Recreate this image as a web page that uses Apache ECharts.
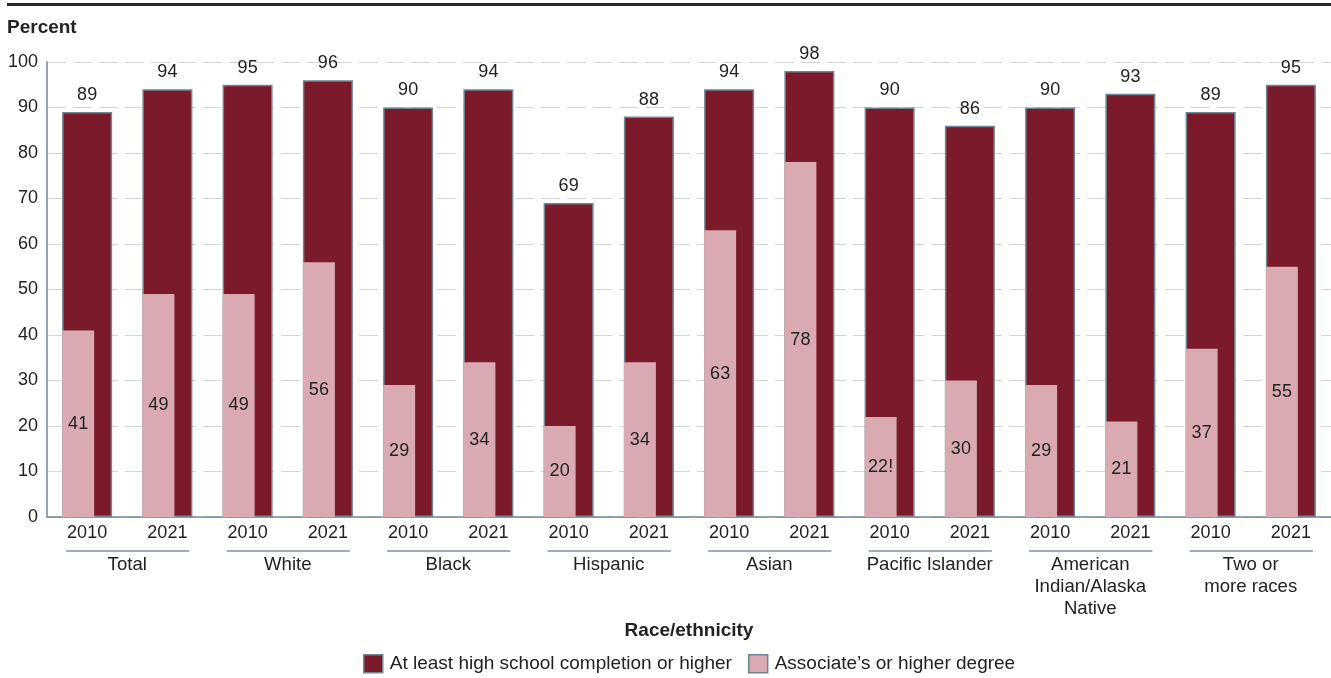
<!DOCTYPE html>
<html>
<head>
<meta charset="utf-8">
<script src="https://cdn.jsdelivr.net/npm/echarts@6/dist/echarts.min.js"></script>
<style>
  html, body { margin: 0; padding: 0; background: #fff; }
  #chart { width: 1331px; height: 678px; }
</style>
</head>
<body>
<div id="chart"></div>
<script>
// Educational attainment of 25- to 29-year-olds by race/ethnicity, 2010 and 2021
const groups = ['Total', 'White', 'Black', 'Hispanic', 'Asian', 'Pacific Islander',
  'American\nIndian/Alaska\nNative', 'Two or\nmore races'];
const years = ['2010', '2021'];
const highSchool = [89, 94, 95, 96, 90, 94, 69, 88, 94, 98, 90, 86, 90, 93, 89, 95];
const associate = [41, 49, 49, 56, 29, 34, 20, 34, 63, 78, 22, 30, 29, 21, 37, 55];
const associateFlags = ['', '', '', '', '', '', '', '', '', '', '!', '', '', '', '', ''];
const yTicks = { min: 0, max: 100, interval: 10 };

const seriesNames = ['At least high school completion or higher', 'Associate\u2019s or higher degree'];
const FONT = '"Liberation Sans", Arial, sans-serif';
const INK = '#222222';
const EDGE = '#6f8596';
const DARK = '#7a1a2a';
const PINK = '#d9aab1';

// one category per bar: "<year>#<group index>"
const barKeys = [];
groups.forEach((g, gi) => years.forEach(y => barKeys.push(y + '#' + gi)));

const chart = echarts.init(document.getElementById('chart'), null, { renderer: 'canvas' });

const option = {
  animation: false,
  backgroundColor: '#ffffff',
  textStyle: { fontFamily: FONT },
  grid: { left: 47, right: 0, top: 62, bottom: 161, containLabel: false },
  legend: {
    data: [seriesNames[0], seriesNames[1]],
    left: 363,
    top: 654,
    padding: 0,
    icon: 'rect',
    itemWidth: 19,
    itemHeight: 18,
    itemGap: 16,
    selectedMode: false,
    itemStyle: { borderColor: EDGE, borderWidth: 1.5 },
    textStyle: { fontFamily: FONT, fontSize: 19, color: INK, padding: [0, 0, 0, 2] }
  },
  xAxis: [
    {
      type: 'category',
      data: barKeys,
      position: 'bottom',
      axisLine: { show: true, lineStyle: { color: EDGE, width: 1.5 } },
      axisTick: { show: false },
      axisLabel: {
        interval: 0,
        margin: 7,
        fontFamily: FONT,
        fontSize: 18,
        color: INK,
        formatter: v => v.split('#')[0]
      },
      name: 'Race/ethnicity',
      nameLocation: 'middle',
      nameGap: 114,
      nameTextStyle: { fontFamily: FONT, fontSize: 19, fontWeight: 'bold', color: INK, verticalAlign: 'middle' }
    },
    {
      type: 'category',
      data: groups,
      position: 'bottom',
      offset: 30,
      axisLine: { show: false },
      axisTick: { show: false },
      axisLabel: {
        interval: 0,
        margin: 7,
        fontFamily: FONT,
        fontSize: 18.6,
        lineHeight: 22,
        color: INK,
        align: 'center'
      }
    }
  ],
  yAxis: {
    type: 'value',
    min: yTicks.min,
    max: yTicks.max,
    interval: yTicks.interval,
    axisLine: { show: true, lineStyle: { color: EDGE, width: 1.5 } },
    axisTick: { show: false },
    axisLabel: { fontFamily: FONT, fontSize: 18, color: INK, margin: 9 },
    splitLine: { show: true, lineStyle: { color: '#d4d4d4', width: 1.2, type: [19, 7] } }
  },
  series: [
    {
      // narrower bar listed first so both bars share the same left edge
      name: seriesNames[1],
      type: 'bar',
      xAxisIndex: 0,
      data: associate,
      barWidth: 32,
      barGap: '-100%',
      z: 3,
      itemStyle: { color: PINK, borderWidth: 0 },
      label: {
        show: true,
        position: 'inside',
        fontFamily: FONT,
        fontSize: 18,
        color: INK,
        formatter: p => p.value + associateFlags[p.dataIndex]
      }
    },
    {
      name: seriesNames[0],
      type: 'bar',
      xAxisIndex: 0,
      data: highSchool,
      barWidth: 50,
      barGap: '-100%',
      z: 2,
      itemStyle: { color: DARK, borderColor: EDGE, borderWidth: 1.5 },
      label: {
        show: true,
        position: 'top',
        distance: 8,
        fontFamily: FONT,
        fontSize: 18,
        color: INK
      }
    }
  ],
  graphic: [
    {
      type: 'rect',
      left: 7, top: 3,
      shape: { width: 1324, height: 3 },
      style: { fill: '#2a2a2a' }
    },
    {
      type: 'text',
      left: 7, top: 18,
      style: { text: 'Percent', font: 'bold 19px ' + FONT, fill: INK }
    }
  ]
};

chart.setOption(option);

// rules under each pair of years, placed from the category axis
const ruleY = 551;
const rules = groups.map((g, gi) => {
  const x0 = chart.convertToPixel({ xAxisIndex: 0 }, gi * 2);
  const x1 = chart.convertToPixel({ xAxisIndex: 0 }, gi * 2 + 1);
  return {
    type: 'line',
    shape: { x1: x0 - 21, y1: ruleY, x2: x1 + 22, y2: ruleY },
    style: { stroke: '#7f93a3', lineWidth: 1.5 },
    silent: true
  };
});
chart.setOption({ graphic: option.graphic.concat(rules) }, { replaceMerge: ['graphic'] });
</script>
</body>
</html>
